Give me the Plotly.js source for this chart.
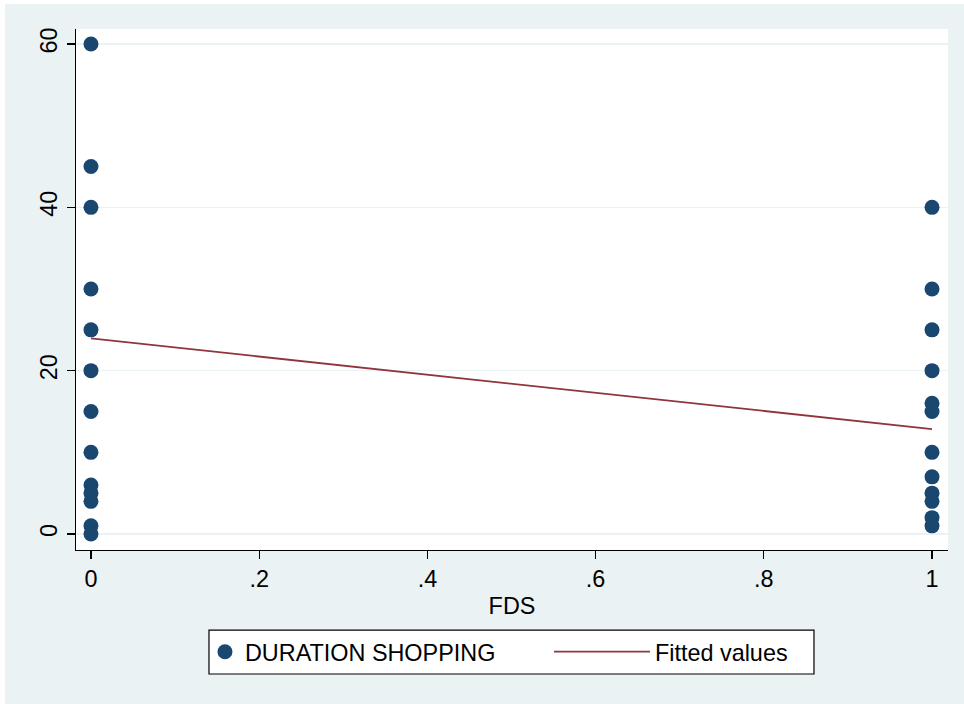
<!DOCTYPE html>
<html>
<head>
<meta charset="utf-8">
<script src="https://cdn.plot.ly/plotly-3.0.1.min.js"></script>
<style>
html, body { margin: 0; padding: 0; background: #ffffff; }
#chart { position: absolute; left: 5px; top: 4px; width: 959px; height: 700px; }
</style>
</head>
<body>
<div id="chart"></div>
<script>
// Scatter data: FDS (0/1) vs duration shopping
const fdsX = [0,0,0,0,0,0,0,0,0,0,0,0,0, 1,1,1,1,1,1,1,1,1,1,1,1];
const durationY = [60,45,40,30,25,20,15,10,6,5,4,1,0, 40,30,25,20,16,15,10,7,5,4,2,1];
// Fitted regression line
const fitX = [0, 1];
const fitY = [23.95, 12.85];
// Axis ticks
const xTickVals = [0, 0.2, 0.4, 0.6, 0.8, 1];
const xTickText = ['0', '.2', '.4', '.6', '.8', '1'];
const yTickVals = [0, 20, 40, 60];
const yTickText = ['0', '20', '40', '60'];

const FONT = '"Liberation Sans", Arial, Helvetica, sans-serif';
const BG = '#eaf2f3';
const FS = 23.4;

const traces = [
  {
    type: 'scatter', mode: 'markers', x: fdsX, y: durationY,
    name: 'DURATION SHOPPING',
    marker: { color: '#1a476f', size: 15, line: { width: 0 } },
    legend: 'legend'
  },
  {
    type: 'scatter', mode: 'lines', x: fitX, y: fitY,
    name: 'Fitted values',
    line: { color: '#90353b', width: 1.8 },
    legend: 'legend2'
  }
];

const layout = {
  width: 959, height: 700,
  paper_bgcolor: BG, plot_bgcolor: '#ffffff',
  margin: { l: 71, r: 16, t: 25, b: 154 },
  font: { family: FONT, size: FS, color: '#000000' },
  showlegend: true,
  xaxis: {
    range: [-0.0178, 1.019],
    tickvals: xTickVals, ticktext: xTickText,
    showgrid: false, zeroline: false,
    showline: true, linecolor: '#000000', linewidth: 1.2,
    ticks: 'outside', ticklen: 8, tickcolor: '#000000', tickwidth: 1.2,
    tickfont: { family: FONT, size: FS, color: '#000000' },
    title: { text: 'FDS', font: { family: FONT, size: FS, color: '#000000' }, standoff: 6 }
  },
  yaxis: {
    range: [-1.96, 61.84],
    tickvals: yTickVals, ticktext: yTickText, tickangle: -90,
    showgrid: true, gridcolor: BG, gridwidth: 1.6,
    zeroline: false,
    showline: true, linecolor: '#000000', linewidth: 1.2,
    ticks: 'outside', ticklen: 8, tickcolor: '#000000', tickwidth: 1.2,
    tickfont: { family: FONT, size: FS, color: '#000000' }
  },
  legend: {
    orientation: 'h', x: 0.1479, xanchor: 'left', y: -0.1958, yanchor: 'middle',
    bgcolor: 'rgba(0,0,0,0)', borderwidth: 0,
    font: { family: FONT, size: FS, color: '#000000' }
  },
  legend2: {
    orientation: 'h', x: 0.5424, xanchor: 'left', y: -0.1958, yanchor: 'middle',
    bgcolor: 'rgba(0,0,0,0)', borderwidth: 0, itemwidth: 96,
    font: { family: FONT, size: FS, color: '#000000' }
  },
  shapes: [
    {
      type: 'rect', xref: 'paper', yref: 'paper',
      x0: 0.1525, x1: 0.8463, y0: -0.238, y1: -0.1536,
      line: { color: '#000000', width: 1.2 }, fillcolor: '#ffffff', layer: 'below'
    }
  ]
};

Plotly.newPlot('chart', traces, layout, { displayModeBar: false, staticPlot: true });
</script>
</body>
</html>
